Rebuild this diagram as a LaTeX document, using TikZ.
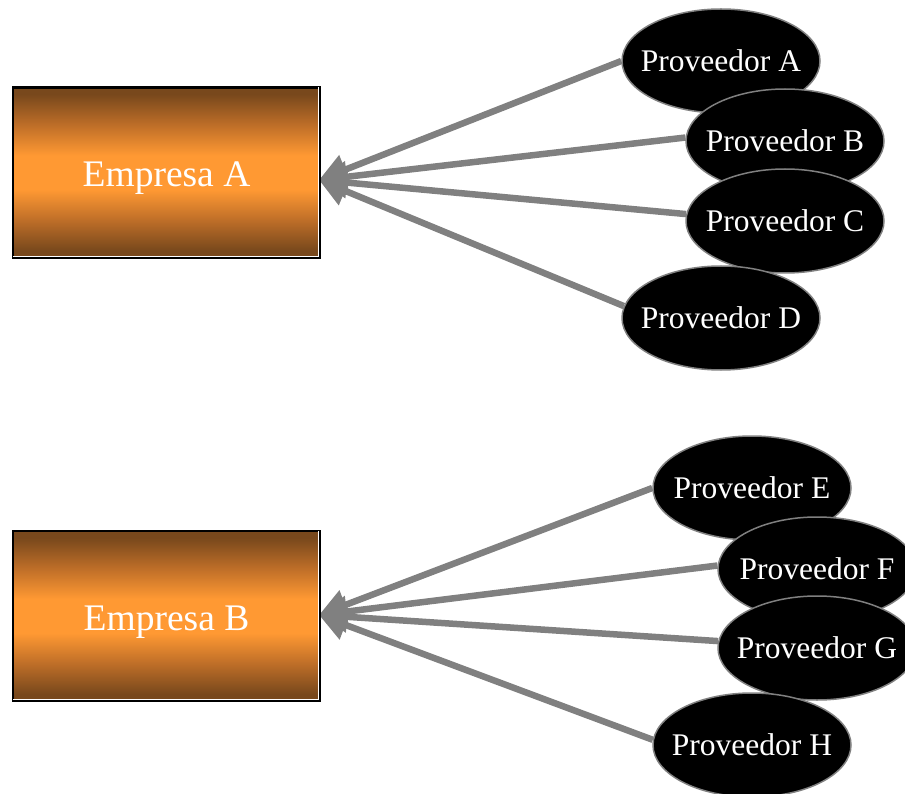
\documentclass[tikz,border=0pt]{standalone}
\usepackage{fontspec}
\setmainfont{Liberation Serif}
\usetikzlibrary{shapes.geometric,arrows.meta,backgrounds}
\definecolor{brownc}{RGB}{120,72,28}
\definecolor{brownm}{RGB}{190,110,40}
\definecolor{orangec}{RGB}{255,153,51}
\definecolor{linkc}{RGB}{128,128,128}
\pgfdeclareverticalshading{empshade}{100bp}{color(0bp)=(brownc); color(25bp)=(brownc); color(27bp)=(brownc);
  color(36bp)=(brownm); color(45bp)=(orangec); color(55bp)=(orangec); color(64bp)=(brownm);
  color(73bp)=(brownc); color(75bp)=(brownc); color(100bp)=(brownc)}
\tikzset{
  empresa/.style={rectangle, draw=black, line width=2.5pt, minimum width=307pt, minimum height=170pt,
    inner sep=0pt, shading=empshade,
    text=white, font=\fontsize{37.5}{44}\selectfont},
  prov/.style={ellipse, draw=linkc, line width=1.5pt, fill=black, minimum width=198pt, minimum height=104pt,
    inner sep=0pt, text=white, font=\fontsize{31.5}{38}\selectfont},
  link/.style={draw=linkc, line width=6.5pt, -{Triangle[length=28pt,width=30pt]}},
  inset/.style={draw=white, line width=1.2pt}
}
\newcommand{\ptxt}[1]{\makebox[0pt]{#1}}
\newcommand{\etxt}[1]{\raisebox{-14pt}[0pt][0pt]{#1}}
\begin{document}
\begin{tikzpicture}[x=1pt,y=-1pt]
\useasboundingbox (0,0) rectangle (905,794);
\node[empresa] (eA) at (166.5,172.5) {\etxt{Empresa A}};
\node[empresa] (eB) at (166.5,616) {\etxt{Empresa B}};
\draw[inset] ([xshift=-2.5pt,yshift=-1pt]eA.north east) -- ([xshift=-2.5pt,yshift=2.5pt]eA.south east) -- ([xshift=1pt,yshift=2.5pt]eA.south west);
\draw[inset] ([xshift=-2.5pt,yshift=-1pt]eB.north east) -- ([xshift=-2.5pt,yshift=2.5pt]eB.south east) -- ([xshift=1pt,yshift=2.5pt]eB.south west);
\coordinate (tipA) at (319,180);
\coordinate (tipB) at (319,615);
\node[prov] (pA) at (721,61) {\ptxt{Proveedor A}};
\node[prov] (pB) at (785,141) {\ptxt{Proveedor B}};
\node[prov] (pC) at (785,221) {\ptxt{Proveedor C}};
\node[prov] (pD) at (721,318) {\ptxt{Proveedor D}};
\node[prov] (pE) at (752,488) {\ptxt{Proveedor E}};
\node[prov] (pF) at (817,569) {\ptxt{Proveedor F}};
\node[prov] (pG) at (817,648) {\ptxt{Proveedor G}};
\node[prov] (pH) at (752,745) {\ptxt{Proveedor H}};
\begin{pgfonlayer}{background}
\draw[link] (pA.west) -- (tipA);
\draw[link] (pB.178) -- (tipA);
\draw[link] (pC.176) -- (tipA);
\draw[link] (pD.173) -- (tipA);
\draw[link] (pE.west) -- (tipB);
\draw[link] (pF.178) -- (tipB);
\draw[link] (pG.176) -- (tipB);
\draw[link] (pH.177) -- (tipB);
\end{pgfonlayer}
\end{tikzpicture}
\end{document}
